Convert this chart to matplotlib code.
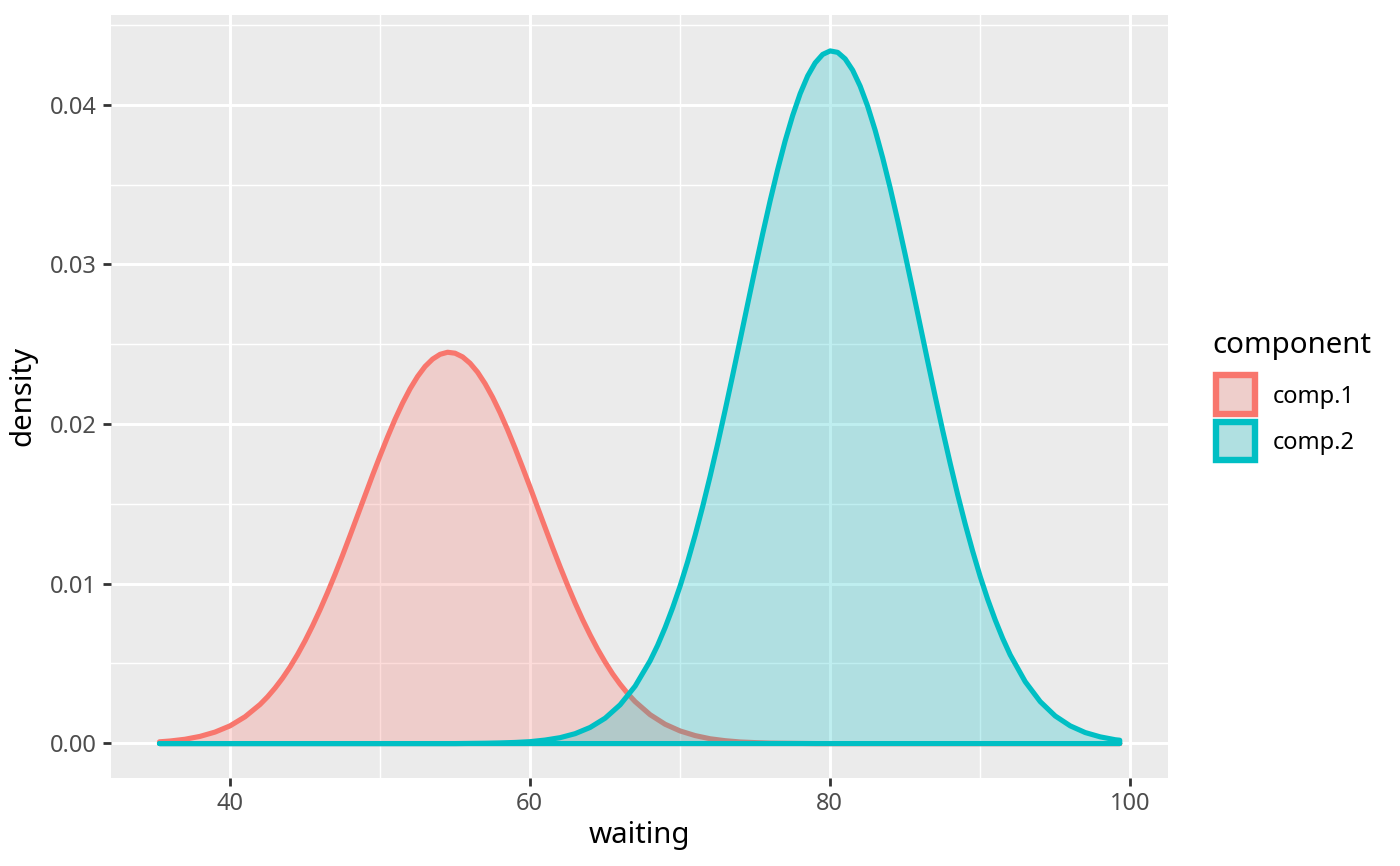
import matplotlib
matplotlib.use("Agg")
import matplotlib.pyplot as plt
from matplotlib.patches import Rectangle
from matplotlib.ticker import MultipleLocator
from matplotlib.colors import to_rgba, to_rgb

plt.rcParams['font.family'] = ['Noto Sans', 'DejaVu Sans']

# ---- data ----
comp1_waiting = [35.3, 36, 37, 38, 39, 40, 41, 42,
                 42.5, 43, 43.5, 44, 44.5, 45, 45.5, 46, 46.5, 47, 47.5, 48, 48.5,
                 49, 49.5, 50, 50.5, 51, 51.5, 52, 52.5, 53, 53.5, 54, 54.5, 55,
                 55.5, 56, 56.5, 57, 57.5, 58, 58.5, 59, 59.5, 60, 60.5, 61, 61.5,
                 62, 62.5, 63, 63.5, 64, 64.5, 65, 65.5, 66, 66.5, 67,
                 68, 69, 70, 71, 72, 73, 74, 75, 76, 77, 78, 79, 80, 81, 82, 83,
                 84, 85, 86, 87, 88, 89, 90, 91, 92, 93, 94, 95, 96, 97, 98, 99, 99.3]
comp1_density = [0.00011, 0.00016, 0.00027, 0.00045, 0.00072, 0.00111, 0.00168, 0.00245,
                 0.00293, 0.00348, 0.00410, 0.00480, 0.00558, 0.00644, 0.00738, 0.00839,
                 0.00947, 0.01061, 0.01180, 0.01304, 0.01430, 0.01556, 0.01682, 0.01804,
                 0.01922, 0.02033, 0.02134, 0.02224, 0.02301, 0.02364, 0.02410, 0.02440,
                 0.02453, 0.02447, 0.02424, 0.02384, 0.02328, 0.02256, 0.02171, 0.02074,
                 0.01967, 0.01852, 0.01731, 0.01607, 0.01480, 0.01354, 0.01229, 0.01108,
                 0.00992, 0.00881, 0.00777, 0.00681, 0.00592, 0.00511, 0.00437, 0.00372,
                 0.00314, 0.00263,
                 0.00181, 0.00121, 0.00079, 0.00050, 0.00030, 0.00018, 0.00010, 0.00006,
                 0.00003, 0.00002, 0.00001,
                 0, 0, 0, 0, 0, 0, 0, 0, 0, 0, 0, 0, 0, 0, 0, 0, 0, 0, 0, 0, 0, 0]

comp2_waiting = [35.3, 36, 37, 38, 39, 40, 41, 42, 43, 44, 45, 46, 47, 48, 49, 50,
                 51, 52, 53, 54, 55, 56, 57, 58, 59, 60, 61, 62, 63, 64, 65, 66, 67, 68,
                 68.5, 69, 69.5, 70, 70.5, 71, 71.5, 72, 72.5, 73, 73.5, 74, 74.5, 75,
                 75.5, 76, 76.5, 77, 77.5, 78, 78.5, 79, 79.5, 80, 80.5, 81, 81.5, 82,
                 82.5, 83, 83.5, 84, 84.5, 85, 85.5, 86, 86.5, 87, 87.5, 88, 88.5, 89,
                 89.5, 90, 90.5, 91, 91.5,
                 92, 93, 94, 95, 96, 97, 98, 99, 99.3]
comp2_density = [0, 0, 0, 0, 0, 0, 0, 0, 0, 0, 0, 0, 0, 0, 0, 0, 0, 0, 0, 0,
                 0, 0.00001, 0.00002, 0.00004, 0.00007, 0.00012, 0.00022, 0.00037,
                 0.00062, 0.00101, 0.00159, 0.00243, 0.00360, 0.00519,
                 0.00616, 0.00727, 0.00851, 0.00988, 0.01140, 0.01306, 0.01485, 0.01676,
                 0.01878, 0.02090, 0.02308, 0.02531, 0.02755, 0.02978, 0.03195, 0.03403,
                 0.03598, 0.03778, 0.03937, 0.04074, 0.04185, 0.04267, 0.04320, 0.04342,
                 0.04333, 0.04292, 0.04221, 0.04121, 0.03995, 0.03844, 0.03672, 0.03483,
                 0.03279, 0.03065, 0.02845, 0.02621, 0.02397, 0.02176, 0.01962, 0.01756,
                 0.01560, 0.01376, 0.01205, 0.01047, 0.00904, 0.00775, 0.00659,
                 0.00556, 0.00388, 0.00263, 0.00173, 0.00111, 0.00069, 0.00042, 0.00024,
                 0.00021]

components = ["comp.1", "comp.2"]
colors = ["#F8766D", "#00BFC4"]
series = [(comp1_waiting, comp1_density), (comp2_waiting, comp2_density)]

x_ticks = [40, 60, 80, 100]
y_ticks = [0.00, 0.01, 0.02, 0.03, 0.04]
y_tick_labels = ["0.00", "0.01", "0.02", "0.03", "0.04"]
legend_title = "component"

# ---- figure ----
W, H = 1400, 866
fig = plt.figure(figsize=(W / 100, H / 100), dpi=100)
ax = fig.add_axes([111 / W, 1 - 778 / H, (1168 - 111) / W, (778 - 15) / H])
panel_bg = "#EBEBEB"
ax.set_facecolor(panel_bg)
for s in ax.spines.values():
    s.set_visible(False)

alpha = 0.25
lw = 3.7
z = 2
for (xs, ys), col in zip(series, colors):
    # filled area with full outline (upper curve + baseline)
    ax.fill_between(xs, 0, ys, facecolor=to_rgba(col, alpha), edgecolor=col,
                    linewidth=lw, joinstyle="round", zorder=z)
    z += 1

ax.set_xlim(32.1, 102.55)
ax.set_ylim(-0.00219, 0.04564)
ax.set_xticks(x_ticks)
ax.set_yticks(y_ticks)
ax.set_yticklabels(y_tick_labels)
ax.xaxis.set_minor_locator(MultipleLocator(10))
ax.yaxis.set_minor_locator(MultipleLocator(0.005))

ax.set_axisbelow(True)
ax.grid(which="major", color="white", lw=2.1)
ax.grid(which="minor", color="white", lw=1.05)
ax.tick_params(which="major", length=5.5, width=2.0, color="#333333",
               labelcolor="#4D4D4D", labelsize=17, pad=4.4)
ax.tick_params(which="minor", length=0)

ax.set_xlabel("waiting", fontsize=21.2, color="black", labelpad=3.5)
ax.set_ylabel("density", fontsize=21.2, color="black", labelpad=9)


def blend(c, a, bg):
    r1, g1, b1 = to_rgb(c)
    r0, g0, b0 = to_rgb(bg)
    return (r0 + a * (r1 - r0), g0 + a * (g1 - g0), b0 + a * (b1 - b0))


# ---- legend (ggplot style, placed in figure pixels) ----
def fx(px):
    return px / W


def fy(py):
    return 1 - py / H


fig.text(fx(1212), fy(353), legend_title, fontsize=21.2, color="black",
         ha="left", va="baseline")
key_left, key_size, key_pitch, key_top0 = 1216.2, 38.4, 46.2, 375.4
for i, (c, lab) in enumerate(zip(colors, components)):
    top = key_top0 + i * key_pitch
    fig.add_artist(Rectangle((fx(key_left), fy(top + key_size)), key_size / W, key_size / H,
                             transform=fig.transFigure, facecolor=blend(c, alpha, panel_bg),
                             edgecolor=c, linewidth=4.6, joinstyle="miter"))
    fig.text(fx(1273), fy(403 + i * key_pitch), lab, fontsize=17, color="black",
             ha="left", va="baseline")

fig.savefig("out.png", dpi=100)
